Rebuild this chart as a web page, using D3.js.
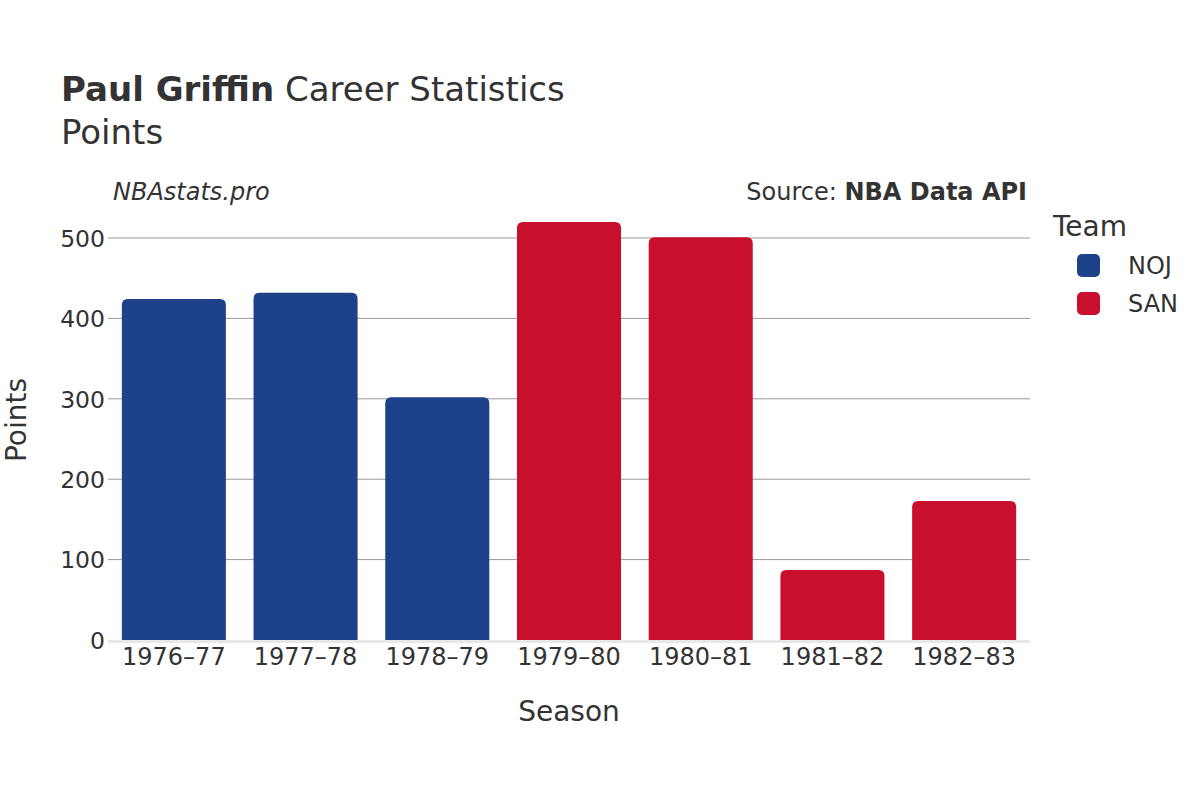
<!DOCTYPE html>
<html><head><meta charset="utf-8">
<script src="https://cdn.jsdelivr.net/npm/d3@7"></script>
<style>body{margin:0;background:#fff;} svg{display:block;font-family:"DejaVu Sans",sans-serif;}</style>
</head><body><svg id="c" width="1200" height="800"></svg>
<script>
const seasons = ["1976–77","1977–78","1978–79","1979–80","1980–81","1981–82","1982–83"];
const points = [424, 432, 302, 520, 501, 87, 173];
const teams = ["NOJ","NOJ","NOJ","SAN","SAN","SAN","SAN"];
const teamNames = ["NOJ","SAN"];
const teamColors = ["#1d428a","#c8102e"];
const yTicks = [0,100,200,300,400,500];

const svg = d3.select("#c");
const m = {l:108, r:1030, t:190, b:640};
const x = d3.scaleBand().domain(seasons).range([m.l, m.r]).paddingInner(0.21).paddingOuter(0.105);
const y = d3.scaleLinear().domain([0, 540]).range([m.b, m.b - 540*0.804]);
const color = d3.scaleOrdinal().domain(teamNames).range(teamColors);
const txt = "#333";

// grid
const g = svg.append("g");
g.selectAll("line.grid").data(yTicks.filter(d=>d>0)).join("line")
  .attr("x1", m.l).attr("x2", m.r).attr("y1", d=>y(d)).attr("y2", d=>y(d))
  .attr("stroke", "#999").attr("stroke-width", 1);

// y axis labels
const yAxis = d3.axisLeft(y).tickValues(yTicks).tickSize(0).tickPadding(0);
const ya = svg.append("g").attr("transform", `translate(${m.l-3},0)`).call(yAxis);
ya.select(".domain").remove();
ya.selectAll("text").attr("font-size", 23.5).attr("fill", txt).attr("font-family","DejaVu Sans").attr("dy","0.35em");

// bars with rounded top
const r = 6;
function barPath(x0, w, yTop, yBot){
  const rr = Math.min(r, (yBot-yTop));
  return `M${x0},${yBot}V${yTop+rr}Q${x0},${yTop} ${x0+rr},${yTop}H${x0+w-rr}Q${x0+w},${yTop} ${x0+w},${yTop+rr}V${yBot}Z`;
}
svg.append("g").selectAll("path").data(seasons).join("path")
  .attr("d", (s,i)=>barPath(x(s), x.bandwidth(), y(points[i]), y(0)))
  .attr("fill", (s,i)=>color(teams[i]));

// zero line
svg.append("line").attr("x1", m.l).attr("x2", m.r).attr("y1", y(0)+1.5).attr("y2", y(0)+1.5)
  .attr("stroke", "#e8e8e8").attr("stroke-width", 3);

// x axis labels
const xAxis = d3.axisBottom(x).tickSize(0).tickPadding(0);
const xa = svg.append("g").attr("transform", `translate(0,${y(0)+8})`).call(xAxis);
xa.select(".domain").remove();
xa.selectAll("text").attr("font-size", 24).attr("fill", txt).attr("font-family","DejaVu Sans").attr("dy","0.71em");

// titles
const t = svg.append("text").attr("x", 61).attr("y", 101).attr("font-size", 34).attr("fill", txt);
t.append("tspan").attr("font-weight", "bold").text("Paul Griffin");
t.append("tspan").text(" Career Statistics");
svg.append("text").attr("x", 61).attr("y", 144).attr("font-size", 34).attr("fill", txt).text("Points");

svg.append("text").attr("x", 113).attr("y", 200).attr("font-size", 24).attr("font-style","italic").attr("fill", txt).text("NBAstats.pro");
const src = svg.append("text").attr("x", 1027).attr("y", 200).attr("font-size", 24).attr("text-anchor","end").attr("fill", txt);
src.append("tspan").text("Source: ");
src.append("tspan").attr("font-weight","bold").text("NBA Data API");

// axis titles
svg.append("text").attr("x", 569).attr("y", 721).attr("font-size", 28).attr("text-anchor","middle").attr("fill", txt).text("Season");
svg.append("text").attr("transform","translate(26,420) rotate(-90)").attr("font-size", 28).attr("text-anchor","middle").attr("fill", txt).text("Points");

// legend
svg.append("text").attr("x", 1053).attr("y", 236).attr("font-size", 28).attr("fill", txt).text("Team");
const lg = svg.append("g").selectAll("g").data(teamNames).join("g")
  .attr("transform", (d,i)=>`translate(1077,${254 + i*38})`);
lg.append("rect").attr("width", 23).attr("height", 23).attr("rx", 5).attr("fill", d=>color(d));
lg.append("text").attr("x", 51).attr("y", 12).attr("dy","0.35em").attr("font-size", 24).attr("fill", txt).text(d=>d);
</script></body></html>
